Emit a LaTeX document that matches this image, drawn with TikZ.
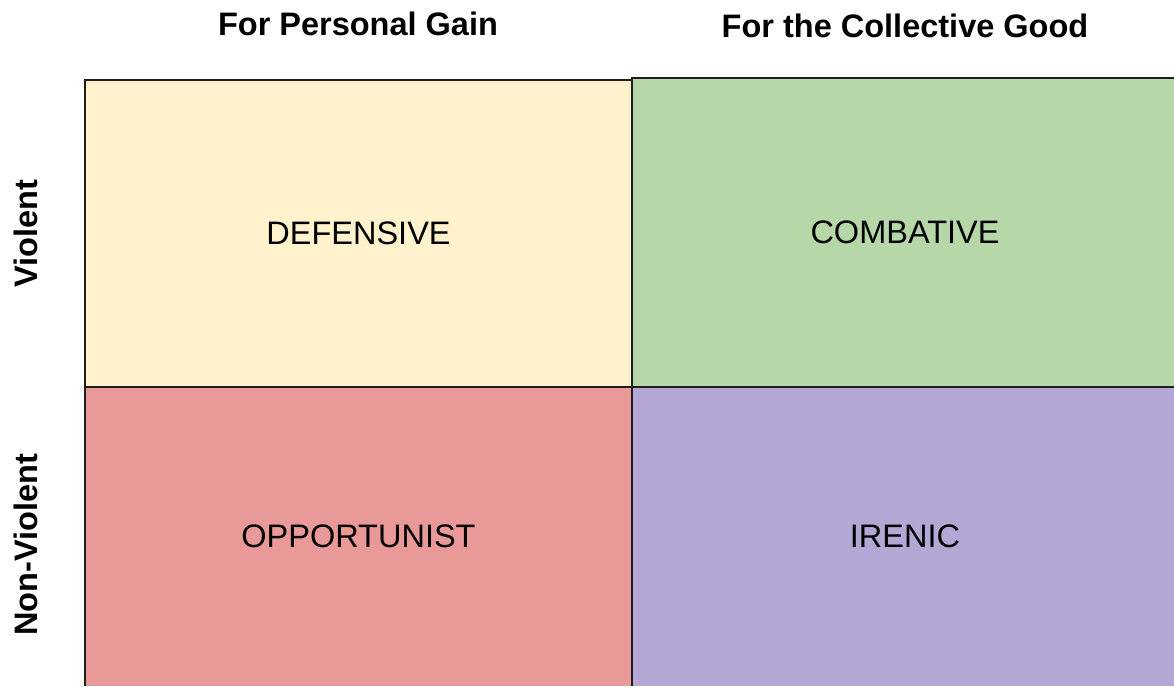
\documentclass[tikz,border=0pt]{standalone}
\usepackage{fontspec}
\setmainfont{Liberation Sans}
\usetikzlibrary{positioning}
\definecolor{cellyellow}{HTML}{FFF2CC}
\definecolor{cellgreen}{HTML}{B6D7A8}
\definecolor{cellred}{HTML}{EA9999}
\definecolor{cellpurple}{HTML}{B4A7D6}
\definecolor{gridline}{HTML}{1E1E1E}

\begin{document}
\begin{tikzpicture}[x=1pt, y=-1pt,
            cell/.style={rectangle, inner sep=0pt, font=\fontsize{32.5}{39}\selectfont},
            head/.style={anchor=base, inner sep=0pt, font=\bfseries\fontsize{32.5}{39}\selectfont},
            side/.style={head, rotate=90},
            grid/.style={draw=gridline, line width=2pt}]
            \useasboundingbox (0,0) rectangle (1174,686);
            \clip (0,0) rectangle (1174,686);
            % the four quadrants
            \node[cell, fill=cellyellow, minimum width=547pt, minimum height=307pt] (defensive) at (358.5,233.5) {DEFENSIVE};
            \node[cell, fill=cellgreen, minimum width=546pt, minimum height=309pt] (combative) at (905,232.5) {COMBATIVE};
            \node[cell, fill=cellred, minimum width=547pt, minimum height=299pt] (opportunist) at (358.5,536.5) {OPPORTUNIST};
            \node[cell, fill=cellpurple, minimum width=546pt, minimum height=299pt] (irenic) at (905,536.5) {IRENIC};
            % borders
            \draw[grid] (opportunist.south west) -- (defensive.north west) -- (defensive.north east);
            \draw[grid] (combative.north east) -- (combative.north west) -- (irenic.south west);
            \draw[grid] (defensive.south west) -- (combative.south east);
            % axis headings
            \node[head] (gain) at (358,35) {For Personal Gain};
            \node[head] (good) at (905,37) {For the Collective Good};
            \node[side] (violent) at (37,234) {Violent};
            \node[side] (nonviolent) at (37,545) {Non-Violent};
        \end{tikzpicture}
\end{document}
